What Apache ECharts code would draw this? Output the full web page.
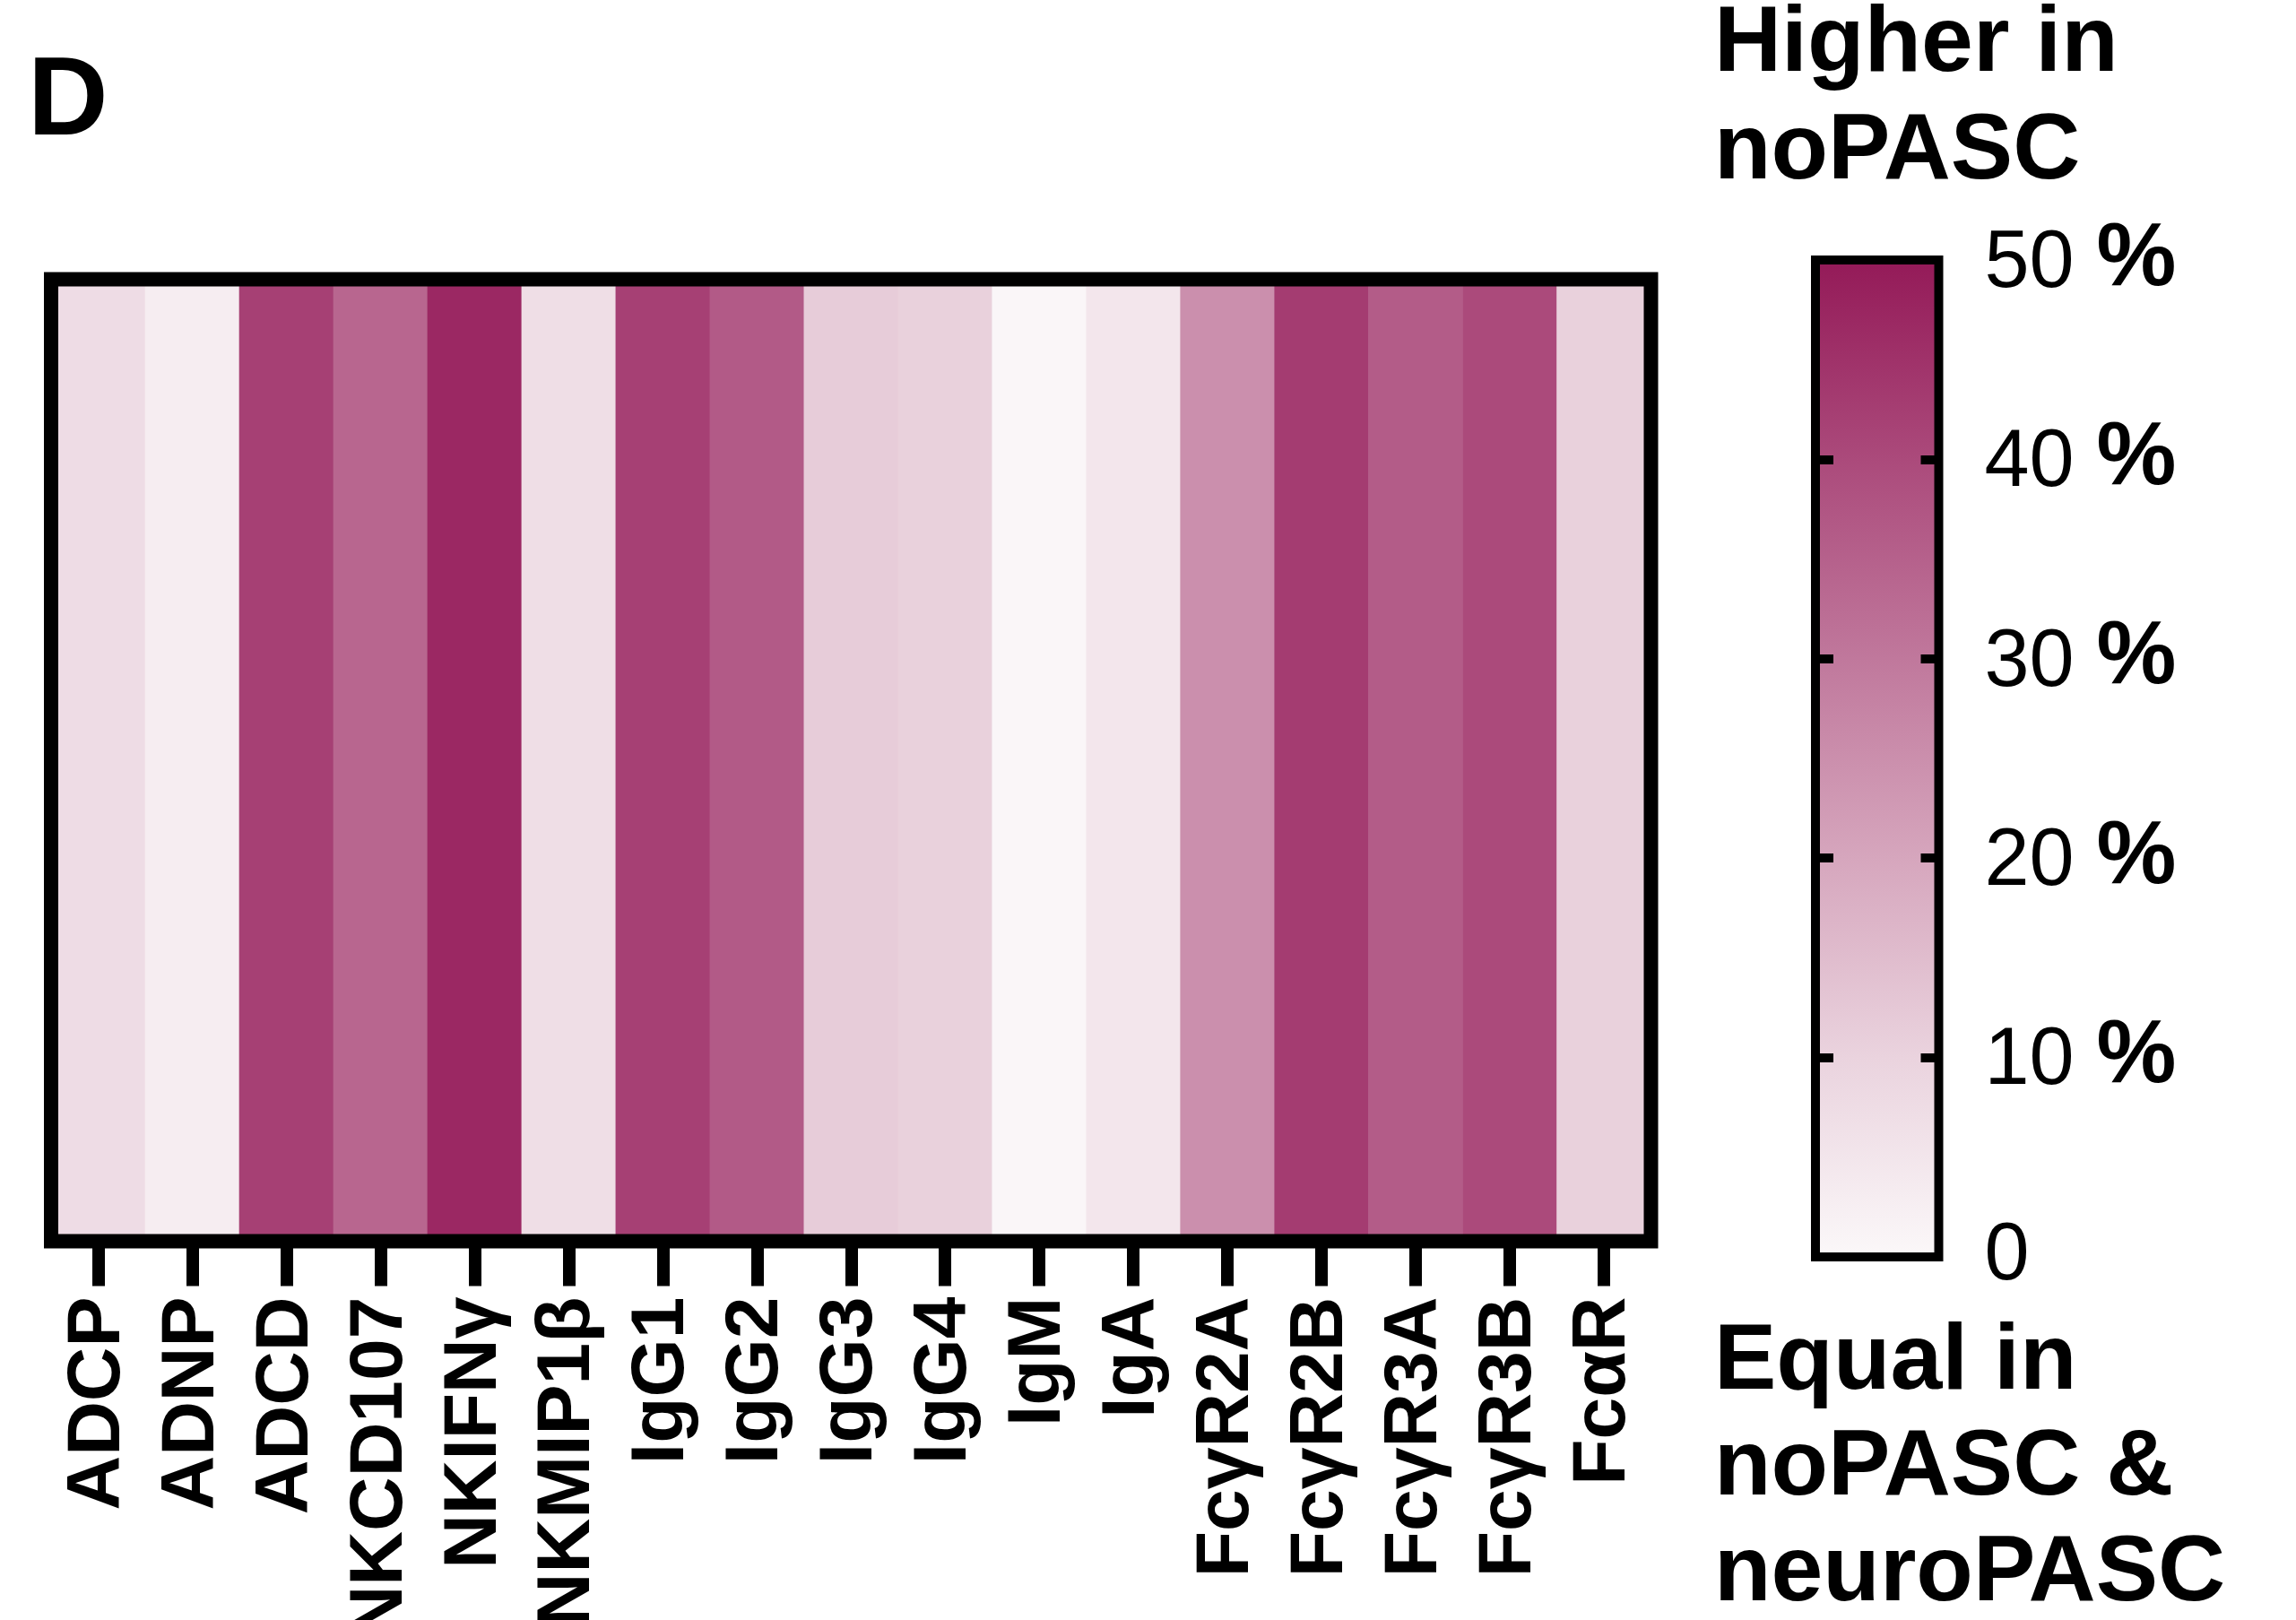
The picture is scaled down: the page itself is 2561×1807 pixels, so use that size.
<!DOCTYPE html>
<html>
<head>
<meta charset="utf-8">
<script src="https://cdn.jsdelivr.net/npm/echarts@6/dist/echarts.min.js"></script>
<style>
  html, body { margin: 0; padding: 0; background: #ffffff; }
  #chart { width: 2561px; height: 1807px; }
</style>
</head>
<body>
<div id="chart"></div>
<script>
// ---- data ----
const categories = ['ADCP', 'ADNP', 'ADCD', 'NKCD107', 'NKIFNγ', 'NKMIP1β', 'IgG1', 'IgG2', 'IgG3', 'IgG4', 'IgM', 'IgA', 'FcγR2A', 'FcγR2B', 'FcγR3A', 'FcγR3B', 'FcαR'];
const percentHigher = [7.5, 3, 42, 34, 47, 7, 42, 36.5, 11.5, 10.5, 0.5, 5, 25, 43, 36, 40, 10.5];
const scaleTicks = [0, 10, 20, 30, 40, 50];
const scaleColors = ['#fbf8f9', '#ead3de', '#d6a6bd', '#c0789c', '#ab4a7b', '#941a58'];
const panelLetter = 'D';
const topNote = 'Higher in\nnoPASC';
const bottomNote = 'Equal in\nnoPASC &\nneuroPASC';
const scaleName = ['scale'];

// ---- build ----
const FONT = 'Liberation Sans, Arial, Helvetica, sans-serif';
const heatData = categories.map((c, i) => [i, 0, percentHigher[i]]);
const scaleMin = scaleTicks[0];
const scaleMax = scaleTicks[scaleTicks.length - 1];
const scaleStep = scaleTicks[1] - scaleTicks[0];
const gradStops = scaleColors.map((c, i) => ({ offset: i / (scaleColors.length - 1), color: c }));

const chart = echarts.init(document.getElementById('chart'), null, { renderer: 'canvas' });

const option = {
  backgroundColor: '#ffffff',
  animation: false,
  title: [
    {
      text: panelLetter, left: 31, top: 54, padding: 0,
      textStyle: { fontFamily: FONT, fontWeight: 'bold', fontSize: 124, lineHeight: 124, color: '#000' }
    },
    {
      text: topNote, left: 1912, top: -10, padding: 0,
      textStyle: { fontFamily: FONT, fontWeight: 'bold', fontSize: 104, lineHeight: 120, color: '#000' }
    },
    {
      text: bottomNote, left: 1912, top: 1461, padding: 0,
      textStyle: { fontFamily: FONT, fontWeight: 'bold', fontSize: 104, lineHeight: 118, color: '#000' }
    }
  ],
  grid: [
    { left: 57, top: 311.5, width: 1784.5, height: 1073, show: true, borderColor: '#000', borderWidth: 16, backgroundColor: 'transparent', z: 10, outerBoundsMode: 'none', containLabel: false },
    { left: 2025, top: 290, width: 137.5, height: 1112, show: true, borderColor: '#000', borderWidth: 10, backgroundColor: 'transparent', z: 10, outerBoundsMode: 'none', containLabel: false }
  ],
  xAxis: [
    {
      type: 'category', gridIndex: 0, data: categories, position: 'bottom', z: 12,
      axisLine: { show: false },
      axisTick: { show: true, alignWithLabel: true, length: 50, lineStyle: { color: '#000', width: 14 } },
      axisLabel: {
        rotate: 90, margin: 62, interval: 0, hideOverlap: false,
        fontFamily: FONT, fontWeight: 'bold', fontSize: 84, color: '#000'
      },
      splitLine: { show: false }
    },
    {
      type: 'category', gridIndex: 1, data: scaleName, show: false
    }
  ],
  yAxis: [
    {
      type: 'category', gridIndex: 0, data: ['row'], show: false
    },
    {
      type: 'value', gridIndex: 1, position: 'right', min: scaleMin, max: scaleMax, interval: scaleStep, z: 12,
      axisLine: { show: false },
      axisTick: { show: true, inside: true, length: 20, lineStyle: { color: '#000', width: 10 } },
      splitLine: { show: false },
      axisLabel: {
        margin: 51, fontFamily: FONT, fontSize: 90, color: '#000',
        formatter: v => v === scaleMin ? '{n|' + v + '}' : '{n|' + v + '} {p|%}',
        rich: {
          n: { fontFamily: FONT, fontSize: 90, color: '#000', verticalAlign: 'bottom', lineHeight: 90 },
          p: { fontFamily: FONT, fontSize: 100, fontWeight: 'bold', color: '#000', verticalAlign: 'bottom', lineHeight: 100 }
        }
      }
    },
    {
      type: 'value', gridIndex: 1, position: 'left', min: scaleMin, max: scaleMax, interval: scaleStep, z: 12,
      axisLine: { show: false },
      axisTick: { show: true, inside: true, length: 20, lineStyle: { color: '#000', width: 10 } },
      splitLine: { show: false },
      axisLabel: { show: false }
    }
  ],
  visualMap: {
    type: 'continuous', show: false, seriesIndex: 0, dimension: 2,
    min: scaleMin, max: scaleMax,
    inRange: { color: scaleColors }
  },
  series: [
    {
      type: 'heatmap', xAxisIndex: 0, yAxisIndex: 0, data: heatData,
      itemStyle: { borderWidth: 0 },
      emphasis: { disabled: true }
    },
    {
      type: 'bar', xAxisIndex: 1, yAxisIndex: 1, data: [scaleMax], barWidth: '100%',
      itemStyle: { color: new echarts.graphic.LinearGradient(0, 1, 0, 0, gradStops) },
      emphasis: { disabled: true }
    }
  ]
};
chart.setOption(option);
</script>
</body>
</html>
